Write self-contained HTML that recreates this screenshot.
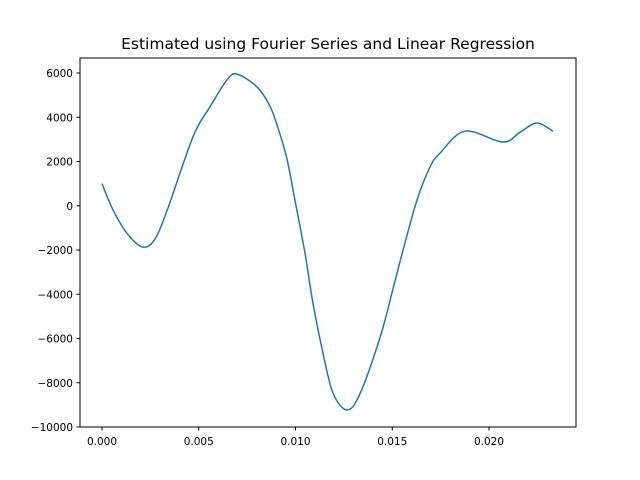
<!DOCTYPE html>
<html><head><meta charset="utf-8"><style>
body{margin:0;background:#fff;}
svg{display:block;font-family:"DejaVu Sans","Liberation Sans",sans-serif;}
</style></head><body>
<svg id="chart" width="640" height="480">
<rect x="0" y="0" width="640" height="480" fill="#fff"/>
<text x="328" y="49" text-anchor="middle" font-size="15.5">Estimated using Fourier Series and Linear Regression</text>
<g id="plot"></g>
<rect x="80" y="58" width="496" height="369" fill="none" stroke="#000" stroke-width="1"/>
</svg>
<script>
const xs=[0,0.00057,0.00134,0.00212,0.00274,0.00341,0.0047,0.00558,0.00646,0.00698,0.00801,0.00868,0.0091,0.00955,0.00997,0.01049,0.0109,0.01142,0.01194,0.01266,0.01333,0.01437,0.01504,0.01556,0.01628,0.01695,0.01747,0.01876,0.02072,0.0216,0.02248,0.0233];
const ys=[1000,-190,-1300,-1870,-1500,-100,3110,4470,5690,5950,5370,4500,3500,2150,260,-2140,-4400,-6660,-8470,-9230,-8500,-5950,-3750,-2000,260,1750,2380,3370,2880,3320,3740,3370];
const xTicks=[0,0.005,0.010,0.015,0.020];
const xTickLabels=["0.000","0.005","0.010","0.015","0.020"];
const yTicks=[6000,4000,2000,0,-2000,-4000,-6000,-8000,-10000];
const yTickLabels=["6000","4000","2000","0","−2000","−4000","−6000","−8000","−10000"];
const X=v=>102+v/0.005*96.75;
const Y=v=>205.75-v/2000*44.25;
const g=document.getElementById('plot');
const NS="http://www.w3.org/2000/svg";
function mk(t,a){const e=document.createElementNS(NS,t);for(const k in a)e.setAttribute(k,a[k]);g.appendChild(e);return e;}
xTicks.forEach((t,i)=>{
 const l=mk('line',{x1:X(t),x2:X(t),y1:427,y2:430.5,stroke:'#000'});
 
 
 const tx=mk('text',{x:X(t),y:445,'text-anchor':'middle','font-size':'10.5'});
 tx.textContent=xTickLabels[i];
 
 
});
yTicks.forEach((t,i)=>{
 const l=mk('line',{x1:76.5,x2:80,y1:Y(t),y2:Y(t),stroke:'#000'});
 
 
 const tx=mk('text',{x:73,y:Y(t)+4,'text-anchor':'end','font-size':'10.5'});
 tx.textContent=yTickLabels[i];
 
 
});
const P=xs.map((x,i)=>[X(x),Y(ys[i])]);
let d="M"+P[0][0]+","+P[0][1];
for(let i=0;i<P.length-1;i++){
 const p0=P[Math.max(0,i-1)],p1=P[i],p2=P[i+1],p3=P[Math.min(P.length-1,i+2)];
 const c1=[p1[0]+(p2[0]-p0[0])/6,p1[1]+(p2[1]-p0[1])/6];
 const c2=[p2[0]-(p3[0]-p1[0])/6,p2[1]-(p3[1]-p1[1])/6];
 d+=` C${c1[0]},${c1[1]} ${c2[0]},${c2[1]} ${p2[0]},${p2[1]}`;
}
const line=mk('path',{d:d,fill:'none',stroke:'#1f77b4','stroke-width':'1.5'});


</script>
</body></html>
